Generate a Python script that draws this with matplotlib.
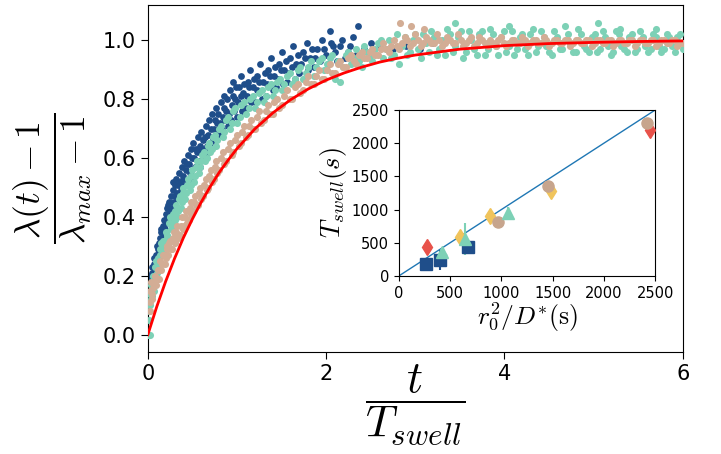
import matplotlib
matplotlib.use("Agg")
import matplotlib.pyplot as plt

plt.rcParams["mathtext.fontset"] = "cm"

# ---------------- data ----------------
blue_t = [0.02,0.03,0.04,0.05,0.06,0.07,0.08,0.09,0.10,0.11,0.12,0.13,0.14,0.15,0.16,0.17,0.18,0.19,0.20,0.21,
          0.22,0.24,0.25,0.26,0.28,0.29,0.30,0.32,0.33,0.35,0.36,0.38,0.40,0.41,0.43,0.45,0.46,0.48,0.50,0.51,
          0.53,0.55,0.56,0.58,0.60,0.62,0.63,0.65,0.67,0.69,0.70,0.72,0.74,0.76,0.78,0.80,0.82,0.84,0.86,0.88,
          0.90,0.92,0.94,0.96,0.98,1.00,1.02,1.05,1.07,1.10,1.12,1.15,1.18,1.20,1.23,1.26,1.29,1.32,1.35,1.38,
          1.41,1.44,1.47,1.50,1.53,1.56,1.60,1.63,1.66,1.70,1.74,1.78,1.82,1.86,1.90,1.95,2.00,2.04,2.08,2.12,
          2.18,2.24,2.30,2.36,2.42,2.50,2.60,2.75,2.90,3.05,3.20,
          0.025,0.045,0.065,0.085,0.105,0.125,0.145,0.165,0.185,0.205,0.23,0.245,0.27,0.285,0.31,0.34,0.37,0.39,
          0.42,0.44,0.47,0.49,0.52,0.54,0.57,0.59,0.61,0.64,0.66,0.68,0.71,0.73,0.75,0.77,0.79,0.81,0.83,0.85,
          0.87,0.89,0.91,0.93,0.95,0.97,0.99,1.01,1.04,1.06,1.08,1.11,1.14,1.16,1.19,1.22,1.25,1.28,1.31,1.34,
          1.37,1.40,1.43,1.46,1.49,1.52,1.55,1.58,1.62,1.65,1.68,1.72,1.76,1.80,1.84,1.88,1.93,1.98,2.02,2.06,
          2.10,2.15,2.21,2.27,2.33]
blue_y = [0.12,0.18,0.15,0.21,0.19,0.24,0.22,0.27,0.25,0.29,0.31,0.28,0.33,0.35,0.32,0.37,0.39,0.36,0.41,0.43,
          0.40,0.45,0.42,0.47,0.49,0.45,0.51,0.53,0.48,0.55,0.52,0.57,0.54,0.59,0.56,0.61,0.58,0.63,0.60,0.65,
          0.57,0.62,0.67,0.64,0.69,0.66,0.61,0.71,0.68,0.73,0.65,0.75,0.70,0.77,0.72,0.68,0.79,0.74,0.81,0.76,
          0.71,0.83,0.78,0.86,0.80,0.74,0.84,0.88,0.82,0.77,0.86,0.90,0.84,0.79,0.88,0.92,0.86,0.81,0.90,0.94,
          0.88,0.84,0.92,0.96,0.90,0.86,0.94,0.98,0.92,0.89,0.96,0.99,0.94,0.91,0.97,1.00,0.95,1.03,0.98,0.93,
          1.00,0.96,1.01,1.05,0.97,0.99,0.98,0.97,0.98,0.97,0.99,
          0.20,0.23,0.26,0.20,0.30,0.26,0.36,0.30,0.34,0.38,0.44,0.39,0.43,0.52,0.47,0.51,0.49,0.53,
          0.51,0.58,0.55,0.53,0.60,0.63,0.59,0.57,0.63,0.67,0.64,0.62,0.70,0.66,0.73,0.68,0.75,0.72,0.70,0.77,
          0.73,0.80,0.75,0.73,0.81,0.76,0.84,0.79,0.81,0.76,0.85,0.81,0.84,0.79,0.87,0.83,0.86,0.80,0.89,0.85,
          0.88,0.83,0.91,0.87,0.90,0.85,0.93,0.89,0.91,0.87,0.95,0.92,0.94,0.90,0.97,0.94,0.93,0.97,0.92,0.99,
          0.96,0.98,0.94,0.98,0.95]

teal_t = [0.00,0.03,0.01,0.02,0.03,0.04,0.05,0.06,0.07,0.08,0.10,0.11,0.13,0.14,0.16,0.17,0.19,0.20,0.22,0.24,
          0.26,0.28,0.30,0.32,0.34,0.36,0.38,0.40,0.43,0.45,0.48,0.50,0.53,0.55,0.58,0.61,0.64,0.67,0.70,0.73,
          0.76,0.80,0.84,0.88,0.92,0.96,1.00,1.05,1.10,1.15,1.20,1.25,1.30,1.35,1.40,1.45,1.50,1.56,1.62,1.68,
          1.74,1.80,1.86,1.92,1.98,2.04,2.10,2.16,2.22,2.28,2.34,2.40,2.46,2.52,2.58,2.64,2.70,2.76,2.82,2.88,
          2.94,3.00,3.06,3.12,3.18,3.24,3.30,3.36,3.42,3.48,3.54,3.60,3.66,3.72,3.78,3.84,3.90,3.96,4.02,4.08,
          4.14,4.20,4.26,4.32,4.38,4.44,4.50,4.56,4.62,4.68,4.74,4.80,4.86,4.92,4.98,5.04,5.10,5.16,5.22,5.28,
          5.34,5.40,5.46,5.52,5.58,5.64,5.70,5.76,5.82,5.88,5.94,6.00,3.45,4.05,5.05,5.30,5.70,
          0.015,0.035,0.055,0.075,0.095,0.12,0.135,0.15,0.18,0.21,0.23,0.25,0.27,0.29,0.31,0.33,0.35,0.37,0.39,
          0.42,0.44,0.47,0.49,0.52,0.54,0.57,0.60,0.63,0.66,0.69,0.72,0.75,0.78,0.82,0.86,0.90,0.94,0.98,1.03,
          1.08,1.13,1.18,1.23,1.28,1.33,1.38,1.43,1.48,1.53,1.59,1.65,1.71,1.77,1.83,1.89,1.95,2.01,2.07,2.13,
          2.19,2.25,2.31,2.37,2.43,2.49,2.55,2.61,2.67,2.73,2.79,2.85,2.91,2.97,3.03,3.09,3.15,3.21,3.27,3.33,
          3.39,3.45,3.51,3.57,3.63,3.69,3.75,3.81,3.87,3.93,3.99,4.05,4.11,4.17,4.23,4.29,4.35,4.41,4.47,4.53,
          4.59,4.65,4.71,4.77,4.83,4.89,4.95,5.01,5.07,5.13,5.19,5.25,5.31,5.37,5.43,5.49,5.55,5.61,5.67,5.73,
          5.79,5.85,5.91,5.97]
teal_y = [0.00,0.00,0.05,0.10,0.14,0.17,0.13,0.20,0.18,0.23,0.21,0.26,0.24,0.29,0.27,0.32,0.30,0.35,0.33,0.38,
          0.36,0.41,0.39,0.44,0.42,0.47,0.45,0.50,0.48,0.53,0.51,0.56,0.54,0.59,0.57,0.61,0.59,0.64,0.62,0.67,
          0.64,0.70,0.67,0.73,0.70,0.76,0.72,0.78,0.75,0.80,0.77,0.82,0.79,0.84,0.81,0.86,0.83,0.88,0.85,0.90,
          0.87,0.91,0.88,0.93,0.90,0.94,0.87,0.86,0.95,0.92,0.97,0.91,0.96,0.93,0.99,0.94,1.00,0.95,0.92,1.01,
          0.96,1.02,0.94,0.99,1.03,0.95,1.00,1.04,0.96,1.01,0.94,1.03,0.97,1.02,0.95,1.04,0.98,1.01,0.96,1.03,
          0.97,1.02,0.95,1.04,0.98,1.01,0.96,1.03,0.97,1.05,0.99,0.96,1.02,0.97,1.01,0.96,1.03,0.98,0.96,1.02,
          0.97,1.01,0.96,1.03,0.98,0.97,1.01,0.96,1.02,0.98,1.01,0.97,1.06,1.05,1.06,1.04,1.04,
          0.08,0.12,0.18,0.15,0.25,0.22,0.27,0.31,0.28,0.34,0.31,0.40,0.38,0.36,0.42,0.40,0.46,0.43,0.48,
          0.46,0.51,0.49,0.54,0.52,0.57,0.55,0.59,0.62,0.60,0.65,0.63,0.68,0.66,0.71,0.69,0.74,0.72,0.77,0.74,
          0.79,0.77,0.81,0.79,0.83,0.81,0.85,0.83,0.87,0.85,0.89,0.87,0.91,0.89,0.93,0.91,0.94,0.92,0.95,0.93,
          0.91,0.96,0.94,0.93,0.98,0.95,0.97,1.00,0.97,0.94,1.02,0.98,0.95,1.00,0.97,1.02,0.96,1.01,0.97,0.95,
          1.02,0.98,1.03,0.96,1.00,0.95,1.03,0.97,1.02,0.95,1.03,0.98,0.95,1.01,0.97,1.02,0.96,1.03,0.98,0.95,
          1.01,0.97,1.02,0.96,1.04,0.98,0.96,1.02,0.97,1.01,0.95,1.03,0.98,0.96,1.02,0.97,1.01,0.96,1.02,0.98,
          0.97,1.01,0.96,1.02]

tan_t = [0.02,0.03,0.04,0.05,0.06,0.08,0.09,0.11,0.12,0.14,0.15,0.17,0.19,0.21,0.23,0.25,0.27,0.29,0.31,0.33,
         0.36,0.38,0.41,0.43,0.46,0.48,0.51,0.53,0.56,0.59,0.62,0.65,0.68,0.71,0.74,0.77,0.80,0.84,0.88,0.92,
         0.96,1.00,1.04,1.08,1.12,1.16,1.20,1.25,1.30,1.35,1.40,1.45,1.50,1.56,1.62,1.68,1.74,1.80,1.86,1.92,
         1.98,2.04,2.10,2.16,2.22,2.28,2.34,2.40,2.46,2.52,2.58,2.64,2.70,2.76,2.82,2.83,2.88,2.94,3.00,3.06,
         3.12,3.18,3.24,3.30,3.36,3.42,3.48,3.54,3.60,3.66,3.72,3.78,3.84,3.90,3.96,4.02,4.08,4.14,4.20,4.26,
         4.32,4.38,4.44,4.50,4.56,4.62,4.68,4.74,4.80,4.86,4.92,4.98,5.04,5.10,5.16,5.22,5.28,5.34,5.40,5.46,
         5.52,5.58,5.64,5.70,5.76,5.82,5.88,5.94,6.00,2.95,3.10,
         0.025,0.045,0.07,0.10,0.13,0.16,0.18,0.20,0.22,0.24,0.26,0.28,0.30,0.32,0.34,0.37,0.39,0.42,0.44,0.47,
         0.49,0.52,0.54,0.57,0.60,0.63,0.66,0.69,0.72,0.75,0.78,0.82,0.86,0.90,0.94,0.98,1.02,1.06,1.10,1.14,
         1.18,1.22,1.27,1.32,1.37,1.42,1.47,1.53,1.59,1.65,1.71,1.77,1.83,1.89,1.95,2.01,2.07,2.13,2.19,2.25,
         2.31,2.37,2.43,2.49,2.55,2.61,2.67,2.73,2.79,2.85,2.91,2.97,3.03,3.09,3.15,3.21,3.27,3.33,3.39,3.45,
         3.51,3.57,3.63,3.69,3.75,3.81,3.87,3.93,3.99,4.05,4.11,4.17,4.23,4.29,4.35,4.41,4.47,4.53,4.59,4.65,
         4.71,4.77,4.83,4.89,4.95,5.01,5.07,5.13,5.19,5.25,5.31,5.37,5.43,5.49,5.55,5.61,5.67,5.73,5.79,5.85,
         5.91,5.97]
tan_y = [0.08,0.15,0.18,0.12,0.16,0.20,0.17,0.22,0.19,0.25,0.22,0.27,0.24,0.30,0.27,0.32,0.29,0.35,0.32,0.37,
         0.34,0.40,0.37,0.42,0.39,0.45,0.42,0.47,0.44,0.50,0.47,0.53,0.50,0.56,0.53,0.59,0.56,0.62,0.59,0.65,
         0.62,0.68,0.65,0.71,0.68,0.73,0.70,0.76,0.73,0.78,0.75,0.80,0.78,0.83,0.80,0.85,0.83,0.88,0.85,0.90,
         0.87,0.92,0.89,0.93,0.91,0.95,0.92,0.96,0.94,0.97,0.95,0.99,0.96,1.00,0.97,1.06,1.01,0.98,1.02,0.98,
         1.01,0.99,1.02,0.98,1.01,0.99,1.02,0.98,1.00,0.98,1.01,0.99,1.00,0.98,1.01,0.98,1.00,0.99,1.01,0.98,
         1.00,0.99,1.01,0.98,1.00,0.99,1.00,0.98,1.00,0.99,1.00,0.98,1.00,0.99,1.00,0.98,1.00,0.99,1.00,0.98,
         1.00,0.99,1.00,0.98,1.00,0.99,1.00,0.98,0.99,1.05,1.04,
         0.11,0.14,0.18,0.19,0.22,0.24,0.27,0.26,0.29,0.31,0.29,0.33,0.31,0.35,0.33,0.37,0.36,0.40,0.38,0.43,
         0.41,0.45,0.44,0.48,0.46,0.51,0.49,0.54,0.52,0.57,0.55,0.60,0.58,0.63,0.61,0.66,0.64,0.69,0.67,0.71,
         0.70,0.74,0.72,0.76,0.75,0.79,0.77,0.81,0.80,0.84,0.82,0.86,0.85,0.88,0.87,0.90,0.89,0.92,0.91,0.94,
         0.93,0.95,0.94,0.96,0.95,0.97,0.97,0.98,0.98,0.99,1.00,0.99,1.00,0.99,1.00,0.99,1.00,0.99,1.00,0.99,
         1.00,0.99,1.01,0.99,1.00,0.98,0.99,1.00,0.99,0.99,1.00,0.99,1.00,0.99,1.00,0.99,1.00,0.99,1.00,0.99,
         1.00,0.99,1.00,0.99,1.00,0.99,1.00,0.99,1.00,0.99,1.00,0.99,1.00,0.99,1.00,0.99,1.00,0.99,1.00,0.99,
         1.00,0.99]

fit_t = [0.0,0.1,0.2,0.3,0.4,0.5,0.6,0.7,0.8,0.9,1.0,1.2,1.4,1.6,1.8,2.0,2.2,2.4,2.6,2.8,3.0,3.5,4.0,4.5,5.0,5.5,6.0]
fit_y = [0.0,0.095,0.181,0.259,0.330,0.393,0.451,0.503,0.551,0.593,0.632,0.699,0.753,0.798,0.835,0.865,0.889,
         0.909,0.926,0.939,0.950,0.970,0.982,0.989,0.993,0.996,0.998]

# inset data: r0^2/D* (s) vs T_swell (s)
sq_x = [269, 405, 674];      sq_y = [181, 241, 441];      sq_err = [20, 150, 110]
tri_x = [425, 642, 1064];    tri_y = [366, 553, 944];     tri_err = [30, 240, 90]
dia_y_x = [593, 892, 1480];  dia_y_y = [592, 904, 1280]
dia_r_x = [275, 2450];       dia_r_y = [441, 2200]
circ_x = [966, 1450, 2420];  circ_y = [818, 1360, 2300]
diag = [0, 2500]

c_blue = "#1f4e8a"
c_teal = "#7dd1b6"
c_tan = "#d3ad95"
c_red = "#e8524a"
c_yel = "#f0c45c"
c_circ = "#c7a58d"

# ---------------- figure ----------------
fig = plt.figure(figsize=(7.21, 4.54), dpi=100)
ax = fig.add_axes([0.205, 0.225, 0.742, 0.764])

ax.scatter(blue_t, blue_y, s=24, color=c_blue, linewidths=0, zorder=2)
ax.scatter(teal_t, teal_y, s=26, color=c_teal, linewidths=0, zorder=3)
ax.scatter(tan_t, tan_y, s=26, color=c_tan, linewidths=0, zorder=4)
ax.plot(fit_t, fit_y, color="red", lw=2, zorder=5)

ax.set_xlim(0, 6)
ax.set_ylim(-0.058, 1.12)
ax.set_xticks([0, 2, 4, 6])
ax.set_yticks([0.0, 0.2, 0.4, 0.6, 0.8, 1.0])
ax.set_yticklabels(["0.0", "0.2", "0.4", "0.6", "0.8", "1.0"])
ax.tick_params(labelsize=15, length=5)
ax.set_ylabel(r"$\dfrac{\lambda(t)-1}{\lambda_{max}-1}$", fontsize=25.5, labelpad=6)
ax.set_xlabel(r"$\dfrac{t}{T_{swell}}$", fontsize=32)
ax.xaxis.set_label_coords(0.5, -0.03)

# inset
ins = fig.add_axes([0.553, 0.392, 0.356, 0.366])
ins.plot(diag, diag, color="#1f77b4", lw=1, zorder=1)
ins.errorbar(sq_x, sq_y, yerr=sq_err, fmt="s", color=c_blue, ms=8, elinewidth=1.5, capsize=0, zorder=3)
ins.errorbar(tri_x, tri_y, yerr=tri_err, fmt="^", color=c_teal, ms=8, elinewidth=1.5, capsize=0, zorder=3)
ins.plot(dia_y_x, dia_y_y, "d", color=c_yel, ms=8, zorder=3)
ins.plot(dia_r_x, dia_r_y, "d", color=c_red, ms=8, zorder=3)
ins.plot(circ_x, circ_y, "o", color=c_circ, ms=8, zorder=3)
ins.set_xlim(0, 2500)
ins.set_ylim(0, 2500)
ins.set_xticks([0, 500, 1000, 1500, 2000, 2500])
ins.set_yticks([0, 500, 1000, 1500, 2000, 2500])
ins.tick_params(labelsize=10.5, length=3.5)
ins.set_xlabel(r"$r_0^2/D^{*}(\mathrm{s})$", fontsize=18.5, labelpad=0)
ins.set_ylabel(r"$T_{swell}(s)$", fontsize=19, labelpad=2)

fig.savefig("out.png", dpi=100)
